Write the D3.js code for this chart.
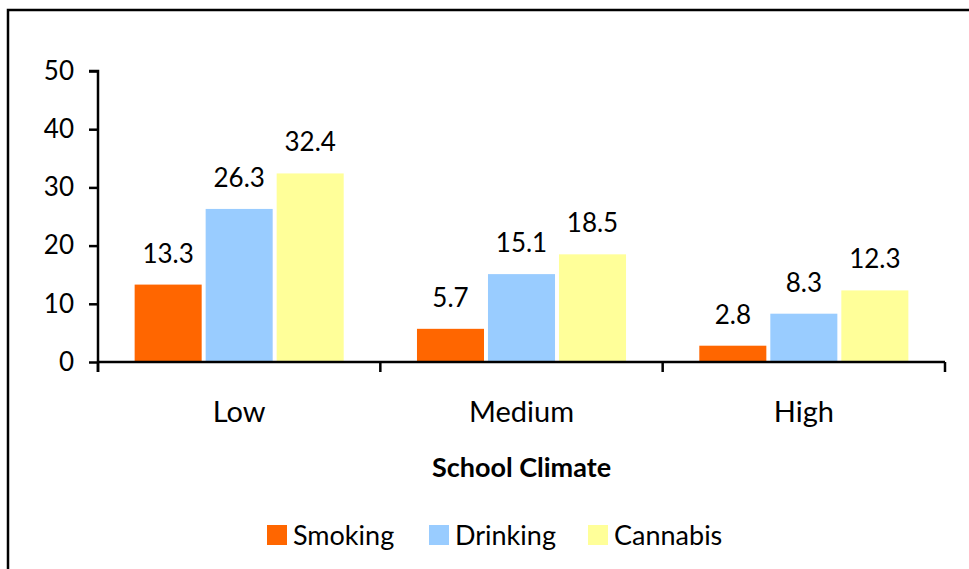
<!DOCTYPE html>
<html>
<head>
<meta charset="utf-8">
<script src="https://cdn.jsdelivr.net/npm/d3@7"></script>
<style>
  html, body { margin: 0; padding: 0; background: #fff; }
  svg { display: block; }
  text { font-family: Lato, "Open Sans", sans-serif; fill: #000; }
</style>
</head>
<body>
<script>
const categories = ["Low", "Medium", "High"];
const seriesNames = ["Smoking", "Drinking", "Cannabis"];
const smoking = [13.3, 5.7, 2.8];
const drinking = [26.3, 15.1, 8.3];
const cannabis = [32.4, 18.5, 12.3];
const yTicks = [0, 10, 20, 30, 40, 50];
const colors = ["#FF6600", "#99CCFF", "#FFFF99"];
const xTitle = "School Climate";

(function () {
const W = 969, H = 569;
const svg = d3.select("body").append("svg").attr("width", W).attr("height", H);

// frame
svg.append("rect").attr("x", 8).attr("y", 10).attr("width", W + 10).attr("height", H + 10)
  .attr("fill", "none").attr("stroke", "#000").attr("stroke-width", 2.5);

const mLeft = 98, mRight = 945, mTop = 71, mBottom = 362;
const x0 = d3.scaleBand().domain(categories).range([mLeft, mRight]).paddingInner(0).paddingOuter(0);
const x1 = d3.scaleBand().domain(seriesNames).range([0, x0.bandwidth()]).paddingInner(0.056).paddingOuter(0.516);
const y = d3.scaleLinear().domain([0, 50]).range([mBottom, mTop]);

const data = categories.map((c, i) => ({cat: c, vals: [smoking[i], drinking[i], cannabis[i]]}));

const g = svg.append("g");
const groups = g.selectAll("g.grp").data(data).join("g").attr("class", "grp")
  .attr("transform", d => `translate(${x0(d.cat)},0)`);

groups.selectAll("rect").data(d => d.vals.map((v, j) => ({v, s: seriesNames[j], j})))
  .join("rect")
  .attr("x", d => x1(d.s))
  .attr("y", d => y(d.v))
  .attr("width", x1.bandwidth())
  .attr("height", d => y(0) - y(d.v))
  .attr("fill", d => colors[d.j]);

groups.selectAll("text.val").data(d => d.vals.map((v, j) => ({v, s: seriesNames[j]})))
  .join("text").attr("class", "val")
  .attr("x", d => x1(d.s) + x1.bandwidth() / 2)
  .attr("y", d => y(d.v) - 22)
  .attr("text-anchor", "middle")
  .attr("font-size", 26)
  .text(d => d.v.toFixed(1));

// y axis
const yAxis = d3.axisLeft(y).tickValues(yTicks).tickSize(9).tickPadding(15).tickFormat(d3.format("d"));
const ya = svg.append("g").attr("transform", `translate(${mLeft},0)`).call(yAxis);
ya.select(".domain").attr("stroke", "#000").attr("stroke-width", 2.5).attr("d", `M-9,${mTop}H0V${mBottom + 10}`);
ya.selectAll(".tick line").attr("stroke", "#000").attr("stroke-width", 2.5);
ya.selectAll(".tick text").attr("font-size", 26).attr("font-family", "Lato, sans-serif").attr("fill", "#000");

// x axis
const xa = svg.append("g").attr("transform", `translate(0,${mBottom})`);
xa.append("line").attr("x1", mLeft).attr("x2", mRight).attr("y1", 0).attr("y2", 0)
  .attr("stroke", "#000").attr("stroke-width", 2.5);
const boundaries = categories.map(c => x0(c)).concat([x0(categories[categories.length - 1]) + x0.bandwidth()]);
xa.selectAll("line.tk").data(boundaries).join("line").attr("class", "tk")
  .attr("x1", d => d).attr("x2", d => d).attr("y1", 0).attr("y2", 10)
  .attr("stroke", "#000").attr("stroke-width", 2.5);
xa.selectAll("text.cat").data(categories).join("text").attr("class", "cat")
  .attr("x", d => x0(d) + x0.bandwidth() / 2)
  .attr("y", 60)
  .attr("text-anchor", "middle")
  .attr("font-size", 29)
  .text(d => d);

svg.append("text").attr("x", (mLeft + mRight) / 2).attr("y", 477)
  .attr("text-anchor", "middle").attr("font-size", 27).attr("font-weight", "bold")
  .text(xTitle);

// legend
const legendX = [267, 429, 588];
const lg = svg.append("g");
const items = lg.selectAll("g").data(seriesNames).join("g")
  .attr("transform", (d, i) => `translate(${legendX[i]},525)`);
items.append("rect").attr("width", 20).attr("height", 20).attr("fill", (d, i) => colors[i]);
items.append("text").attr("x", 26).attr("y", 20).attr("font-size", 27).text(d => d);
})();
</script>
</body>
</html>
